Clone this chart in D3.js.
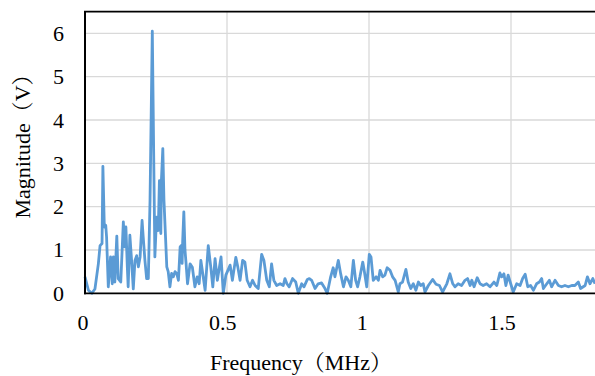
<!DOCTYPE html>
<html>
<head>
<meta charset="utf-8">
<script src="https://cdn.jsdelivr.net/npm/d3@7"></script>
<style>
  html, body { margin: 0; padding: 0; background: #fff; }
  svg { display: block; }
</style>
</head>
<body>
<div id="chart"></div>
<script>
// spectrum (MHz, V)
const freqMHz = [
  0, .012, .024, .035, .047, .053, .060, .063, .068, .073, .076, .082, .090, .096, .100, .105,
  .112, .117, .126, .135, .140, .144, .149, .152, .158, .164, .170, .176, .182, .188, .194, .201,
  .205, .211, .217, .223, .229, .237, .246, .252, .258, .262, .267, .269, .274, .278, .288, .293,
  .299, .305, .311, .317, .323, .329, .335, .338, .342, .344, .348, .352, .356, .361, .370, .378,
  .387, .395, .402, .408, .423, .434, .443, .450, .458, .466, .479, .487, .496, .511, .519, .531,
  .538, .546, .555, .563, .571, .581, .590, .599, .610, .622, .630, .640, .649, .657, .665, .675,
  .687, .698, .704, .711, .719, .731, .742, .751, .763, .771, .783, .790, .798, .810, .821, .833,
  .845, .853, .865, .874, .880, .892, .900, .910, .919, .927, .936, .945, .953, .960, .968, .978,
  .983, .992, 1.001, 1.007, 1.015, 1.025, 1.033, 1.039, 1.048, 1.056, 1.064, 1.074, 1.083, 1.092, 1.103,
  1.109, 1.118, 1.130, 1.138, 1.147, 1.156, 1.165, 1.174, 1.182, 1.191, 1.197, 1.209, 1.224, 1.236,
  1.248, 1.259, 1.274, 1.285, 1.295, 1.303, 1.314, 1.326, 1.338, 1.347, 1.356, 1.362, 1.370, 1.381,
  1.391, 1.402, 1.414, 1.426, 1.440, 1.450, 1.461, 1.467, 1.475, 1.482, 1.490, 1.499, 1.508, 1.520,
  1.532, 1.541, 1.550, 1.559, 1.569, 1.579, 1.590, 1.600, 1.608, 1.614, 1.626, 1.635, 1.643, 1.655,
  1.667, 1.678, 1.690, 1.702, 1.714, 1.725, 1.737, 1.745, 1.761, 1.769, 1.778, 1.788, 1.796
];
const magV = [
  .38, .07, 0, .10, .68, 1.10, 1.15, 2.93, 1.53, 1.57, 1.30, .15, .84, .22, .84, .26,
  1.32, .34, .26, 1.65, 1.07, 1.53, .61, .15, 1.34, .76, .10, .76, .87, .61, .84, 1.68,
  1.30, .76, .34, .34, 2.15, 6.05, .84, 1.76, 1.45, 2.60, 1.38, 2.60, 3.34, 2.15, .61, .50,
  .15, .46, .38, .50, .46, .30, 1.07, 1.10, .69, 1.22, 1.88, 1.0, .68, .22, .68, .60,
  .15, .38, .22, .76, .07, 1.10, .60, .15, .80, .30, .84, 0, .42, .65, .30, .83,
  .61, .30, .76, .72, .30, .15, .30, .18, .11, .90, .76, .30, .15, .68, .30, .18,
  .22, .18, .34, .22, .15, .34, .26, 0, .22, .15, .32, .34, .30, .11, .22, .24,
  .11, 0, .38, .59, .38, .76, .46, .15, .38, .30, .15, .76, .30, .15, .38, .72,
  .53, .15, .90, .84, .30, .38, .30, .53, .38, .42, .59, .53, .38, .30, .03,
  .22, .26, .55, .26, .11, .22, .07, .26, .18, .22, .03, .18, .32, .21,
  .18, .03, .22, .45, .22, .15, .22, .18, .30, .34, .18, .30, .15, .36,
  .22, .18, .22, .15, .26, .18, .47, .38, .45, .18, .42, .22, .03, .22,
  .18, .34, .44, .15, .18, .07, .22, .26, .34, .11, .22, .30, .15, .30,
  .18, .15, .18, .15, .18, .18, .26, .11, .18, .38, .22, .34, .22
];
const xTicks = [0, 0.5, 1, 1.5];
const yTicks = [0, 1, 2, 3, 4, 5, 6];
const xGrid = [0.5, 1, 1.5];
const yGrid = [1, 2, 3, 4, 5, 6];

const width = 595;
const height = 376;
const serif = '"Liberation Serif", "Times New Roman", Times, Tinos, "Noto Serif", "DejaVu Serif", "Noto Serif CJK SC", serif';

const svg = d3.select('#chart')
  .append('svg')
  .attr('width', width)
  .attr('height', height);

const x = d3.scaleLinear().domain([0, 1.8]).range([85, 596.2]);
const y = d3.scaleLinear().domain([0, 6.5]).range([293.3, 11.7]);
// labels in the picture sit slightly left of their gridlines
const xLab = d3.scaleLinear().domain([0, 1.5]).range([83, 502]);

// gridlines
svg.append('g')
  .selectAll('line')
  .data(yGrid)
  .enter()
  .append('line')
  .attr('x1', x(0))
  .attr('x2', width)
  .attr('y1', d => y(d))
  .attr('y2', d => y(d))
  .style('stroke', '#d9d9d9')
  .style('stroke-width', '1.3px');

svg.append('g')
  .selectAll('line')
  .data(xGrid)
  .enter()
  .append('line')
  .attr('x1', d => x(d))
  .attr('x2', d => x(d))
  .attr('y1', y(0))
  .attr('y2', y(6.5))
  .style('stroke', '#d9d9d9')
  .style('stroke-width', '1.3px');

// spectrum
const points = freqMHz.map((f, i) => [f, magV[i]]);
const line = d3.line()
  .x(d => x(d[0]))
  .y(d => y(d[1]));

svg.append('path')
  .datum(points)
  .attr('d', line)
  .style('fill', 'none')
  .style('stroke', '#5b9bd5')
  .style('stroke-width', '2.8px')
  .style('stroke-linejoin', 'round');

// frame: left, bottom, top
svg.append('line')
  .attr('x1', x(0)).attr('x2', x(0))
  .attr('y1', y(6.5)).attr('y2', y(0) + 1)
  .style('stroke', '#000').style('stroke-width', '2px');
svg.append('line')
  .attr('x1', x(0) - 1).attr('x2', width)
  .attr('y1', y(0)).attr('y2', y(0))
  .style('stroke', '#000').style('stroke-width', '1.8px');
svg.append('line')
  .attr('x1', x(0) - 1).attr('x2', width)
  .attr('y1', y(6.5)).attr('y2', y(6.5))
  .style('stroke', '#000').style('stroke-width', '1.8px');

// tick labels
svg.append('g')
  .selectAll('text')
  .data(yTicks)
  .enter()
  .append('text')
  .attr('x', 64)
  .attr('y', d => y(d) + 7.5)
  .attr('text-anchor', 'end')
  .attr('font-family', serif)
  .attr('font-size', 22)
  .attr('fill', '#000')
  .text(d => d);

svg.append('g')
  .selectAll('text')
  .data(xTicks)
  .enter()
  .append('text')
  .attr('x', d => xLab(d))
  .attr('y', 330)
  .attr('text-anchor', 'middle')
  .attr('font-family', serif)
  .attr('font-size', 22)
  .attr('fill', '#000')
  .text(d => d);

// axis titles
svg.append('text')
  .attr('x', 301)
  .attr('y', 370)
  .attr('text-anchor', 'middle')
  .attr('font-family', serif)
  .attr('font-size', 22)
  .attr('fill', '#000')
  .text('Frequency（MHz）');

svg.append('text')
  .attr('transform', 'translate(30,141) rotate(-90)')
  .attr('text-anchor', 'middle')
  .attr('font-family', serif)
  .attr('font-size', 22)
  .attr('fill', '#000')
  .text('Magnitude（V）');
</script>
</body>
</html>
